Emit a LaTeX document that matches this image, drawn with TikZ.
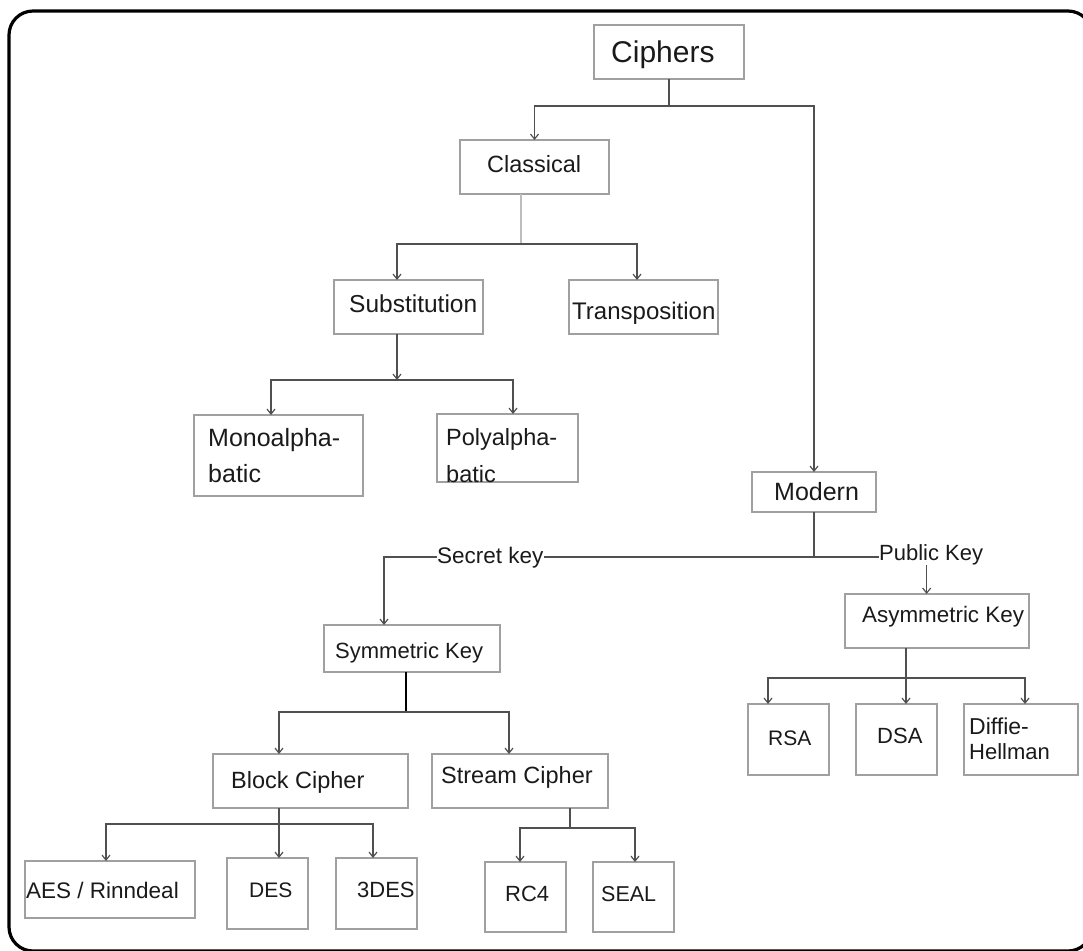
\documentclass[tikz,border=0pt]{standalone}
\usepackage{fontspec}
\setmainfont{Liberation Sans}
\usetikzlibrary{arrows.meta,calc}
\definecolor{boxc}{HTML}{A0A0A0}
\definecolor{linec}{HTML}{505050}
\definecolor{lightc}{HTML}{BDBDBD}
\definecolor{textc}{HTML}{1A1A1A}
\begin{document}
\begin{tikzpicture}[x=1pt,y=-1pt,
  box/.style={draw=boxc, line width=1.3pt, inner sep=0pt, outer sep=0pt, anchor=north west},
  conn/.style={draw=linec, line width=1.2pt},
  arr/.style={conn, -{Straight Barb[length=5pt,width=8pt]}},
  lbl/.style={anchor=base west, inner sep=0pt, text=textc, font=\fontsize{#1pt}{#1pt}\selectfont}]
\useasboundingbox (0,0) rectangle (1083,950);
\draw[line width=3.2pt, rounded corners=24pt] (9,11) rectangle (1092,951);

% boxes
\node[box, minimum width=150pt, minimum height=54pt] (ciphers) at (594,25) {};
\node[box, minimum width=149pt, minimum height=54pt] (classical) at (460,140) {};
\node[box, minimum width=149pt, minimum height=54pt] (subst) at (334,280) {};
\node[box, minimum width=149pt, minimum height=54pt] (transp) at (569,280) {};
\node[box, minimum width=169pt, minimum height=81pt] (mono) at (194,415) {};
\node[box, minimum width=141pt, minimum height=68pt] (poly) at (437,414) {};
\node[box, minimum width=124pt, minimum height=40pt] (modern) at (752,472) {};
\node[box, minimum width=176pt, minimum height=47pt] (symm) at (324,625) {};
\node[box, minimum width=184pt, minimum height=54pt] (asym) at (845,594) {};
\node[box, minimum width=195pt, minimum height=54pt] (block) at (213,754) {};
\node[box, minimum width=176pt, minimum height=54pt] (stream) at (432,754) {};
\node[box, minimum width=170pt, minimum height=57pt] (aes) at (25,861) {};
\node[box, minimum width=81pt, minimum height=71pt] (des) at (227,858) {};
\node[box, minimum width=81pt, minimum height=71pt] (tdes) at (336,858) {};
\node[box, minimum width=81pt, minimum height=70pt] (rc4) at (485,862) {};
\node[box, minimum width=81pt, minimum height=70pt] (seal) at (593,862) {};
\node[box, minimum width=81pt, minimum height=71pt] (rsa) at (748,704) {};
\node[box, minimum width=81pt, minimum height=71pt] (dsa) at (856,704) {};
\node[box, minimum width=114pt, minimum height=71pt] (dh) at (964,704) {};

% line under key labels
\coordinate (pk) at (879,557);
\coordinate (sk) at (384,557);
\draw[arr] (pk) -- (sk) -- ([xshift=-28pt]symm.north);

% labels
\node[lbl=30] (ciphers-t) at (611,63) {Ciphers};
\node[lbl=23.5] (classical-t) at (487,172) {Classical};
\node[lbl=24.5] (subst-t) at (349,312) {Substitution};
\node[lbl=24] (transp-t) at (572,319) {Transposition};
\node[lbl=25] (mono-t1) at (208,446) {Monoalpha-};
\node[lbl=25] (mono-t2) at (208,482) {batic};
\node[lbl=23.5] (poly-t1) at (446,445) {Polyalpha-};
\node[lbl=23.5] (poly-t2) at (446,482) {batic};
\node[lbl=25] (modern-t) at (774,500) {Modern};
\node[lbl=22.5, fill=white] (seck) at (437,563) {Secret key};
\node[lbl=22, fill=white] (pubk) at (879,560) {Public Key};
\node[lbl=22] (symm-t) at (335,658) {Symmetric Key};
\node[lbl=22.4] (asym-t) at (862,622) {Asymmetric Key};
\node[lbl=23.5] (block-t) at (231,788) {Block Cipher};
\node[lbl=23.5] (stream-t) at (441,783) {Stream Cipher};
\node[lbl=22.5] (aes-t) at (26,898) {AES / Rinndeal};
\node[lbl=21] (des-t) at (249,897) {DES};
\node[lbl=22] (tdes-t) at (357,897) {3DES};
\node[lbl=22] (rc4-t) at (505,901) {RC4};
\node[lbl=21.5] (seal-t) at (601,901) {SEAL};
\node[lbl=21] (rsa-t) at (768,745) {RSA};
\node[lbl=22] (dsa-t) at (877,743) {DSA};
\node[lbl=23] (dh-t1) at (969,734) {Diffie-};
\node[lbl=22] (dh-t2) at (969,759) {Hellman};

% connectors
\coordinate (j1) at (669,106);
\draw[conn] (ciphers.south) -- (j1);
\draw[arr] (j1) -| (classical.north);
\draw[arr] (j1) -| (modern.north);

\coordinate (j2) at (521,244);
\draw[conn, draw=lightc] ([xshift=-13.5pt]classical.south) -- (j2);
\draw[arr] (j2) -| ([xshift=-11.5pt]subst.north);
\draw[arr] (j2) -| ([xshift=-6.5pt]transp.north);

\coordinate (j3) at (397,380);
\draw[arr] ([xshift=-11.5pt]subst.south) -- (j3);
\draw[arr] (j3) -| ([xshift=-7.5pt]mono.north);
\draw[arr] (j3) -| ([xshift=5.5pt]poly.north);

\coordinate (j4) at (814,557);
\draw[conn] (modern.south) -- (j4);
\draw[arr] ([xshift=-4.5pt]pubk.south) -- ([xshift=-4.5pt]pubk.south |- asym.north);

\coordinate (j5) at (906,678);
\draw[arr] ([xshift=-31pt]asym.south) -- ([xshift=-31pt]asym.south |- dsa.north);
\draw[arr] (j5) -| ([xshift=-20.5pt]rsa.north);
\draw[arr] (j5) -| ([xshift=4pt]dh.north);

\coordinate (j6) at (406,712);
\draw[line width=2pt, draw=black] ([xshift=-6pt]symm.south) -- (j6);
\draw[arr] (j6) -| ([xshift=-31.5pt]block.north);
\draw[arr] (j6) -| ([xshift=-11pt]stream.north);

\coordinate (j7) at (279,824);
\draw[arr] ([xshift=-31.5pt]block.south) -- ([xshift=-31.5pt]block.south |- des.north);
\draw[arr] (j7) -| ([xshift=-4pt]aes.north);
\draw[arr] (j7) -| ([xshift=-3.5pt]tdes.north);

\coordinate (j8) at (570,828);
\draw[conn] ([xshift=50pt]stream.south) -- (j8);
\draw[arr] (j8) -| ([xshift=-5.5pt]rc4.north);
\draw[arr] (j8) -| ([xshift=1.5pt]seal.north);
\end{tikzpicture}
\end{document}
